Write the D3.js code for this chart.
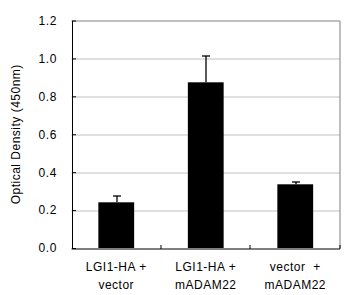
<!DOCTYPE html>
<html>
<head>
<meta charset="utf-8">
<script src="https://cdn.jsdelivr.net/npm/d3@7"></script>
<style>
  html, body { margin: 0; padding: 0; background: #fff; }
  svg { display: block; font-family: Arial, "Liberation Sans", sans-serif; }
</style>
</head>
<body>
<div id="chart"></div>
<script>
// Chart data
const categories = ['g1', 'g2', 'g3'];
const labelLines = [['LGI1-HA +', 'vector'], ['LGI1-HA +', 'mADAM22'], ['vector  +', 'mADAM22']];
const means = [0.241, 0.874, 0.336];
const errors = [0.037, 0.142, 0.016];
const yTicks = [0, 0.2, 0.4, 0.6, 0.8, 1.0, 1.2];

const totalW = 351, totalH = 295;
const margin = { top: 20.5, right: 11, bottom: 47, left: 71.5 };
const width = totalW - margin.left - margin.right;
const height = totalH - margin.top - margin.bottom;

const svg = d3.select('#chart').append('svg')
  .attr('width', totalW).attr('height', totalH);

const g = svg.append('g').attr('transform', `translate(${margin.left},${margin.top})`);

const x = d3.scaleBand().domain(categories).range([0, width]).paddingInner(0.6).paddingOuter(0.3);
const y = d3.scaleLinear().domain([0, 1.2]).range([height, 0]);

// gridlines
g.selectAll('.grid').data(yTicks.filter(t => t > 0 && t < 1.2)).enter().append('line')
  .attr('x1', 0).attr('x2', width)
  .attr('y1', d => Math.round(y(d)) + 0.5).attr('y2', d => Math.round(y(d)) + 0.5)
  .attr('stroke', '#c0c0c0').attr('stroke-width', 1);

// top and right border
g.append('path')
  .attr('d', `M0,${Math.round(y(1.2)) + 0.5}H${Math.round(width) - 0.5}V${height}`)
  .attr('fill', 'none').attr('stroke', '#808080').attr('stroke-width', 1);

// bars
g.selectAll('.bar').data(categories).enter().append('rect')
  .attr('x', d => x(d)).attr('width', x.bandwidth())
  .attr('y', (d, i) => y(means[i])).attr('height', (d, i) => height - y(means[i]))
  .attr('fill', '#000');

// error bars (upper only)
const cap = 4;
categories.forEach((c, i) => {
  const cx = Math.round(x(c) + x.bandwidth() / 2) + 0.5;
  const top = Math.round(y(means[i] + errors[i])) + 0.5;
  g.append('line').attr('x1', cx).attr('x2', cx).attr('y1', y(means[i])).attr('y2', top)
    .attr('stroke', '#000').attr('stroke-width', 1.3);
  g.append('line').attr('x1', cx - cap).attr('x2', cx + cap).attr('y1', top).attr('y2', top)
    .attr('stroke', '#000').attr('stroke-width', 1.3);
});

// y axis
const yAxis = g.append('g').attr('transform', 'translate(0.5,0)')
  .call(d3.axisLeft(y).tickValues(yTicks).tickFormat(d3.format('.1f')).tickSizeInner(-4).tickSizeOuter(0).tickPadding(15));
yAxis.select('.domain').attr('stroke', '#000');
yAxis.selectAll('.tick line').attr('stroke', '#000');
yAxis.selectAll('text').attr('font-size', 12).attr('fill', '#000')
  .attr('font-family', 'Arial, "Liberation Sans", sans-serif').style('letter-spacing', '0.6px');

// x axis: ticks at category boundaries, pointing inward
const xAxisG = g.append('g').attr('transform', `translate(0,${Math.round(height) + 0.5})`);
xAxisG.append('line').attr('x1', 0).attr('x2', width).attr('stroke', '#000');
const step = x.step();
const boundaries = d3.range(1, categories.length + 1).map(k => x(categories[0]) - x.paddingOuter() * step + k * step);
xAxisG.selectAll('.xt').data(boundaries).enter().append('line')
  .attr('x1', d => Math.round(d) - 0.5).attr('x2', d => Math.round(d) - 0.5)
  .attr('y1', 0).attr('y2', -4).attr('stroke', '#000');

// category labels
categories.forEach((c, i) => {
  const t = g.append('text')
    .attr('x', x(c) + x.bandwidth() / 2)
    .attr('y', height + 23)
    .attr('text-anchor', 'middle')
    .attr('font-size', 12)
    .style('letter-spacing', '0.5px')
    .attr('fill', '#000');
  labelLines[i].forEach((line, k) => {
    t.append('tspan').attr('x', x(c) + x.bandwidth() / 2).attr('dy', k === 0 ? 0 : 18)
      .style('white-space', 'pre').text(line);
  });
});

// y axis title
svg.append('text')
  .attr('transform', `translate(20,${margin.top + height / 2}) rotate(-90)`)
  .attr('text-anchor', 'middle')
  .attr('font-size', 12)
  .style('letter-spacing', '0.5px')
  .attr('fill', '#000')
  .text('Optical Density (450nm)');
</script>
</body>
</html>
